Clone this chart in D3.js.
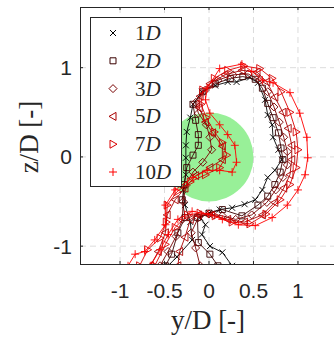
<!DOCTYPE html>
<html>
<head>
<meta charset="utf-8">
<script src="https://cdn.jsdelivr.net/npm/d3@7"></script>
<style>
  body { margin: 0; background: #fff; }
  text { fill: #262626; }
</style>
</head>
<body>
<svg id="chart" width="334" height="337"></svg>
<script>
// distances behind the rotor, legend order
const distances = ["1", "2", "3", "5", "7", "10"];
const seriesColors = ["#000000", "#3a0000", "#780000", "#a80000", "#d80000", "#ff0000"];
const seriesMarkers = ["x", "square", "diamond", "triLeft", "triRight", "plus"];

const xTicks = [-1, -0.5, 0, 0.5, 1];
const yTicks = [-1, 0, 1];
const xTickLabels = ["-1", "-0.5", "0", "0.5", "1"];
const yTickLabels = ["-1", "0", "1"];

// rotor disc (y, z, radius)
const disc = [0, 0, 0.5];

// vortex contour, [y/D, z/D] points
const c1D = [[-0.46,-1.22],[-0.36,-1.12],[-0.19,-0.93],[-0.21,-0.73],[-0.27,-0.54],[-0.29,-0.37],[-0.26,-0.2],
  [-0.26,-0.01],[-0.26,0.13],[-0.25,0.28],[-0.21,0.44],[-0.18,0.59],[-0.08,0.73],[0.07,0.8],[0.21,0.84],
  [0.31,0.84],[0.46,0.89],[0.55,0.83],[0.63,0.64],[0.66,0.47],[0.71,0.36],[0.72,0.22],[0.78,0.08],[0.82,-0.03],
  [0.74,-0.15],[0.66,-0.23],[0.6,-0.37],[0.52,-0.48],[0.4,-0.53],[0.26,-0.57],[0.12,-0.59],[0.0,-0.63],
  [-0.1,-0.68],[-0.04,-0.76],[-0.08,-0.87],[0.01,-1.0],[0.15,-1.07],[0.26,-1.22]];
const c2D = [[-0.49,-1.22],[-0.42,-1.09],[-0.35,-0.85],[-0.27,-0.68],[-0.3,-0.48],[-0.28,-0.31],[-0.25,-0.12],
  [-0.18,0.02],[-0.12,0.13],[-0.12,0.25],[-0.15,0.41],[-0.18,0.59],[-0.07,0.73],[0.07,0.82],[0.24,0.88],
  [0.38,0.9],[0.52,0.87],[0.6,0.77],[0.66,0.6],[0.72,0.44],[0.78,0.27],[0.81,0.1],[0.83,-0.03],[0.8,-0.17],
  [0.74,-0.31],[0.66,-0.44],[0.55,-0.54],[0.37,-0.66],[0.15,-0.59],[0.0,-0.63],[-0.13,-0.68],[-0.12,-0.96],
  [0.01,-1.09],[0.1,-1.22]];
const c3D = [[-0.55,-1.22],[-0.46,-1.06],[-0.37,-0.89],[-0.3,-0.7],[-0.29,-0.5],[-0.26,-0.32],[-0.18,-0.17],
  [-0.07,-0.06],[0.03,0.08],[0.01,0.22],[-0.03,0.36],[-0.12,0.49],[-0.15,0.61],[-0.04,0.75],[0.1,0.86],
  [0.27,0.92],[0.44,0.93],[0.57,0.86],[0.66,0.73],[0.73,0.56],[0.79,0.39],[0.84,0.22],[0.88,0.06],[0.88,-0.09],
  [0.83,-0.23],[0.75,-0.37],[0.65,-0.51],[0.48,-0.65],[0.3,-0.7],[0.15,-0.66],[0.0,-0.64],[-0.12,-0.68],
  [-0.2,-0.85],[-0.15,-1.02],[-0.1,-1.22]];
const c5D = [[-0.66,-1.22],[-0.57,-1.06],[-0.49,-0.85],[-0.47,-0.65],[-0.38,-0.48],[-0.27,-0.35],[-0.15,-0.21],
  [0.01,-0.12],[0.15,-0.03],[0.15,0.12],[0.04,0.27],[-0.04,0.39],[-0.11,0.55],[-0.1,0.68],[0.01,0.82],
  [0.18,0.92],[0.37,0.97],[0.54,0.95],[0.65,0.84],[0.74,0.67],[0.83,0.5],[0.89,0.32],[0.93,0.13],[0.93,-0.03],
  [0.91,-0.2],[0.84,-0.35],[0.74,-0.51],[0.6,-0.65],[0.4,-0.73],[0.21,-0.7],[0.03,-0.65],[-0.12,-0.65],
  [-0.21,-0.7],[-0.27,-0.9],[-0.33,-1.06],[-0.35,-1.22]];
const c7D = [[-0.78,-1.22],[-0.69,-1.04],[-0.55,-0.91],[-0.48,-0.73],[-0.47,-0.54],[-0.36,-0.39],[-0.21,-0.28],
  [-0.04,-0.2],[0.12,-0.12],[0.2,0.02],[0.15,0.16],[0.06,0.28],[-0.03,0.44],[-0.09,0.59],[-0.07,0.75],
  [0.06,0.88],[0.21,0.97],[0.39,1.02],[0.57,0.99],[0.71,0.88],[0.81,0.73],[0.91,0.5],[0.98,0.28],[1.0,0.08],
  [0.98,-0.12],[0.91,-0.31],[0.8,-0.48],[0.64,-0.64],[0.46,-0.75],[0.26,-0.73],[0.07,-0.66],[-0.1,-0.63],
  [-0.24,-0.65],[-0.38,-0.79],[-0.49,-0.98],[-0.61,-1.22]];
const c10D = [[-0.91,-1.22],[-0.83,-1.09],[-0.72,-1.06],[-0.61,-0.93],[-0.49,-0.76],[-0.49,-0.54],[-0.38,-0.37],
  [-0.18,-0.23],[-0.02,-0.15],[0.12,-0.15],[0.26,-0.17],[0.31,-0.06],[0.29,0.13],[0.21,0.25],[0.12,0.36],
  [0.01,0.49],[-0.04,0.64],[-0.02,0.77],[0.12,0.99],[0.37,1.04],[0.48,0.96],[0.6,0.86],[0.72,0.83],[0.91,0.72],
  [1.02,0.49],[1.1,0.22],[1.11,-0.01],[1.08,-0.2],[1.0,-0.37],[0.88,-0.54],[0.71,-0.68],[0.52,-0.77],
  [0.33,-0.76],[0.15,-0.7],[-0.01,-0.64],[-0.19,-0.61],[-0.35,-0.7],[-0.46,-0.87],[-0.55,-1.04],[-0.66,-1.22]];
const contours = [c1D, c2D, c3D, c5D, c7D, c10D];

const svg = d3.select("#chart");
const pLeft = 80, pTop = 7, pRight = 338, pBottom = 264;

const x = d3.scaleLinear().domain([-1.45, 1.45]).range([pLeft, pRight]);
const y = d3.scaleLinear().domain([-1.2, 1.68]).range([pBottom, pTop]);

svg.append("defs").append("clipPath").attr("id", "plotClip")
  .append("rect").attr("x", pLeft).attr("y", pTop).attr("width", pRight - pLeft).attr("height", pBottom - pTop);

// grid
const grid = svg.append("g").attr("stroke", "#dcdcdc").attr("stroke-dasharray", "6,4").attr("stroke-width", 1);
grid.selectAll(".gx").data(xTicks).join("line")
  .attr("x1", d => x(d)).attr("x2", d => x(d)).attr("y1", pTop).attr("y2", pBottom);
grid.selectAll(".gy").data(yTicks).join("line")
  .attr("x1", pLeft).attr("x2", pRight).attr("y1", d => y(d)).attr("y2", d => y(d));

const plot = svg.append("g").attr("clip-path", "url(#plotClip)");

plot.append("circle")
  .attr("cx", x(disc[0])).attr("cy", y(disc[1]))
  .attr("r", x(disc[2]) - x(0))
  .attr("fill", "#98f098");

function markerPath(type) {
  switch (type) {
    case "x": return "M-3,-3L3,3M-3,3L3,-3";
    case "square": return "M-3,-3H3V3H-3Z";
    case "diamond": return "M0,-4L4,0L0,4L-4,0Z";
    case "triLeft": return "M-4,0L3,-4V4Z";
    case "triRight": return "M4,0L-3,-4V4Z";
    case "plus": return "M-4,0H4M0,-4V4";
  }
}

const line = d3.line().x(d => x(d[0])).y(d => y(d[1]));

contours.forEach((pts, i) => {
  const g = plot.append("g");
  g.append("path").datum(pts)
    .attr("d", line)
    .attr("fill", "none")
    .attr("stroke", seriesColors[i])
    .attr("stroke-width", 0.9);
  g.selectAll("path.m").data(pts).join("path")
    .attr("class", "m")
    .attr("transform", d => `translate(${x(d[0])},${y(d[1])})`)
    .attr("d", markerPath(seriesMarkers[i]))
    .attr("fill", "none")
    .attr("stroke", seriesColors[i])
    .attr("stroke-width", 0.9);
});

// axes box and ticks
const ax = svg.append("g").attr("stroke", "#262626").attr("fill", "none");
ax.append("line").attr("x1", pLeft).attr("x2", pRight).attr("y1", pTop + 0.5).attr("y2", pTop + 0.5);
ax.append("line").attr("x1", pLeft).attr("x2", pRight).attr("y1", pBottom + 0.5).attr("y2", pBottom + 0.5);
ax.append("line").attr("x1", pLeft + 0.5).attr("x2", pLeft + 0.5).attr("y1", pTop).attr("y2", pBottom);
xTicks.forEach(t => {
  ax.append("line").attr("x1", x(t)).attr("x2", x(t)).attr("y1", pBottom).attr("y2", pBottom - 3);
  ax.append("line").attr("x1", x(t)).attr("x2", x(t)).attr("y1", pTop).attr("y2", pTop + 3);
});
yTicks.forEach(t => {
  ax.append("line").attr("x1", pLeft).attr("x2", pLeft + 3).attr("y1", y(t)).attr("y2", y(t));
});

const tickFont = "'Liberation Sans', Arial, sans-serif";
svg.selectAll(".xt").data(xTicks).join("text")
  .attr("x", d => x(d)).attr("y", 298)
  .attr("text-anchor", "middle")
  .style("font-family", tickFont).style("font-size", "21px")
  .text((d, i) => xTickLabels[i]);
svg.selectAll(".yt").data(yTicks).join("text")
  .attr("x", 72).attr("y", d => y(d) + 7.5)
  .attr("text-anchor", "end")
  .style("font-family", tickFont).style("font-size", "21px")
  .text((d, i) => yTickLabels[i]);

const serif = "'Liberation Serif', 'Times New Roman', serif";
svg.append("text")
  .attr("x", 208).attr("y", 329)
  .attr("text-anchor", "middle")
  .style("font-family", serif).style("font-size", "27px")
  .text("y/D [-]");
svg.append("text")
  .attr("transform", "translate(38,137) rotate(-90)")
  .attr("text-anchor", "middle")
  .style("font-family", serif).style("font-size", "27px")
  .text("z/D [-]");

// legend
const legend = svg.append("g");
legend.append("rect")
  .attr("x", 90.5).attr("y", 17.5).attr("width", 91).attr("height", 169)
  .attr("fill", "#fff").attr("stroke", "#262626");
distances.forEach((dist, i) => {
  const cy = 33 + i * 27.8;
  legend.append("path")
    .attr("transform", `translate(113,${cy})`)
    .attr("d", markerPath(seriesMarkers[i]))
    .attr("fill", "none")
    .attr("stroke", seriesColors[i]);
  const t = legend.append("text")
    .attr("x", 135).attr("y", cy + 7)
    .style("font-family", serif).style("font-size", "21px");
  t.append("tspan").text(dist);
  t.append("tspan").style("font-style", "italic").text("D");
});
</script>
</body>
</html>
